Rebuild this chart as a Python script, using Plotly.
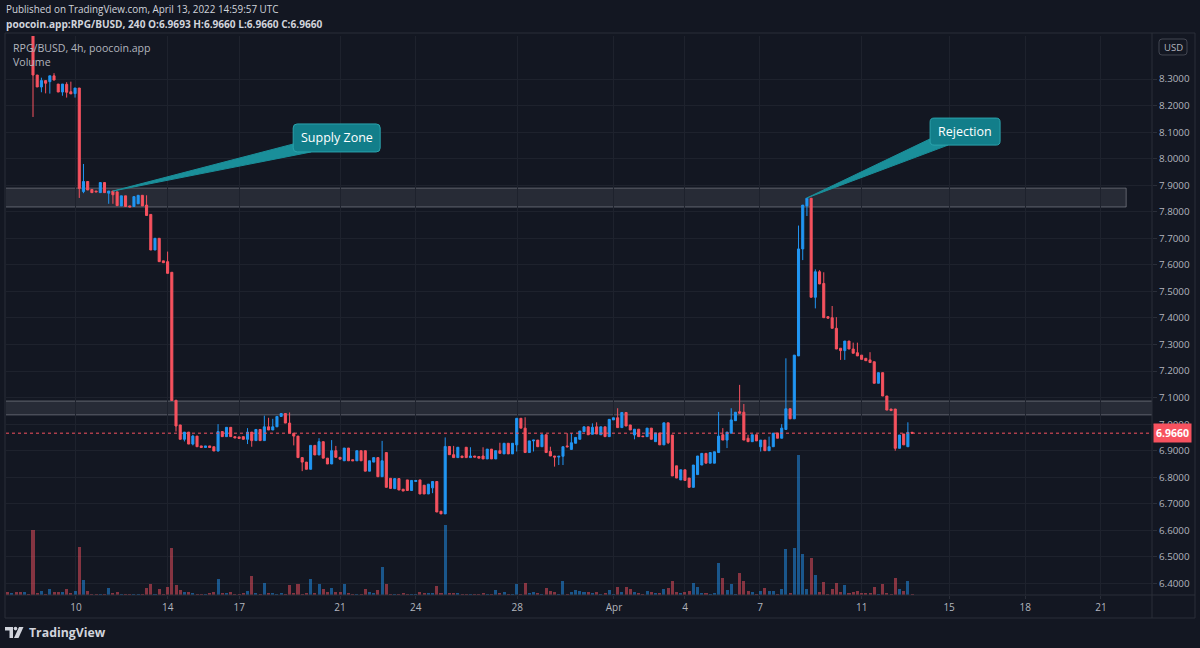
import plotly.graph_objects as go

# ---------------- DATA (4h bars, index -6 .. 209) ----------------
opens = [8.66, 8.62, 8.65, 8.60, 8.57, 8.59,
         8.56, 8.315, 8.27, 8.294, 8.29, 8.312, 8.281, 8.251, 8.28, 8.252,
         8.245, 8.266, 7.876, 7.914, 7.884, 7.878, 7.872, 7.91, 7.87, 7.878,
         7.875, 7.822, 7.86, 7.822, 7.82, 7.83, 7.862, 7.825, 7.79, 7.656,
         7.70, 7.615, 7.612, 7.572, 7.09, 6.997, 6.943, 6.97, 6.925, 6.955,
         6.918, 6.912, 6.918, 6.915, 6.899, 6.972, 6.953, 6.988, 6.953, 6.952,
         6.953, 6.943, 6.97, 6.938, 6.98, 6.938, 6.99, 6.978, 6.99, 7.029,
         7.04, 7.004, 6.966, 6.955, 6.874, 6.857, 6.83, 6.92, 6.884, 6.934,
         6.872, 6.85, 6.9, 6.875, 6.862, 6.91, 6.866, 6.862, 6.9, 6.9,
         6.823, 6.857, 6.874, 6.802, 6.893, 6.796, 6.757, 6.795, 6.755, 6.79,
         6.75, 6.784, 6.79, 6.77, 6.737, 6.76, 6.784, 6.672, 6.662, 6.916,
         6.885, 6.874, 6.88, 6.913, 6.874, 6.88, 6.878, 6.88, 6.869, 6.906,
         6.869, 6.9, 6.888, 6.928, 6.888, 6.922, 7.022, 6.985, 6.893, 6.937,
         6.94, 6.915, 6.96, 6.897, 6.88, 6.876, 6.879, 6.918, 6.905, 6.928,
         6.943, 6.972, 6.99, 6.962, 6.99, 6.96, 6.99, 6.953, 7.016, 7.024,
         6.987, 7.044, 6.997, 6.959, 6.981, 6.955, 6.953, 6.985, 6.934, 6.967,
         6.922, 7.005, 6.959, 6.843, 6.79, 6.828, 6.797, 6.762, 6.81, 6.846,
         6.89, 6.853, 6.853, 6.893, 6.96, 6.94, 6.966, 7.013, 7.047, 7.045,
         6.947, 6.934, 6.96, 6.915, 6.94, 6.9, 6.915, 6.967, 6.947, 6.98,
         7.058, 7.02, 7.257, 7.66, 7.822, 7.851, 7.478, 7.574, 7.53, 7.405,
         7.401, 7.361, 7.286, 7.277, 7.313, 7.283, 7.269, 7.26, 7.248, 7.242,
         7.235, 7.154, 7.194, 7.106, 7.057, 7.057, 6.909, 6.963, 6.915, 6.9693]

highs = [8.68, 8.67, 8.66, 8.61, 8.60, 8.60,
         8.57, 8.315, 8.305, 8.294, 8.312, 8.322, 8.281, 8.281, 8.288, 8.29,
         8.266, 8.266, 7.98, 7.914, 7.884, 7.878, 7.91, 7.91, 7.878, 7.878,
         7.875, 7.86, 7.86, 7.822, 7.857, 7.862, 7.862, 7.862, 7.79, 7.70,
         7.70, 7.615, 7.65, 7.572, 7.09, 6.997, 6.97, 6.97, 6.96, 6.955,
         6.918, 6.918, 6.918, 6.915, 7.0, 6.972, 6.988, 6.988, 6.953, 6.952,
         6.953, 6.985, 6.97, 6.98, 6.98, 7.032, 7.024, 7.02, 7.029, 7.04,
         7.04, 7.044, 6.966, 6.955, 6.874, 6.857, 6.92, 6.92, 6.947, 6.934,
         6.872, 6.94, 6.918, 6.875, 6.91, 6.91, 6.866, 6.9, 6.9, 6.9,
         6.862, 6.874, 6.874, 6.937, 6.893, 6.796, 6.795, 6.795, 6.755, 6.79,
         6.788, 6.788, 6.79, 6.77, 6.774, 6.784, 6.784, 6.672, 6.95, 6.916,
         6.918, 6.913, 6.88, 6.913, 6.913, 6.88, 6.878, 6.913, 6.906, 6.906,
         6.9, 6.93, 6.928, 6.928, 6.928, 7.022, 7.022, 7.026, 6.937, 6.94,
         6.94, 6.96, 6.96, 6.915, 6.88, 6.879, 6.915, 6.966, 6.966, 6.95,
         6.974, 6.99, 6.99, 7.003, 7.007, 6.99, 6.99, 7.018, 7.024, 7.06,
         7.044, 7.044, 6.997, 6.981, 6.981, 6.955, 6.985, 6.985, 6.967, 6.967,
         7.005, 7.005, 6.959, 6.843, 6.828, 6.828, 6.797, 6.846, 6.88, 6.89,
         6.89, 6.893, 6.896, 7.046, 6.985, 6.97, 7.06, 7.045, 7.148, 7.076,
         6.96, 6.96, 6.96, 6.94, 6.94, 6.953, 6.966, 6.967, 7.0, 7.248,
         7.058, 7.26, 7.748, 7.825, 7.851, 7.851, 7.583, 7.58, 7.572, 7.405,
         7.445, 7.403, 7.286, 7.313, 7.313, 7.307, 7.307, 7.26, 7.248, 7.271,
         7.235, 7.194, 7.194, 7.106, 7.057, 7.057, 6.959, 6.963, 7.007, 6.9693]

lows = [8.60, 8.61, 8.59, 8.55, 8.55, 8.54,
        8.157, 8.27, 8.25, 8.246, 8.245, 8.296, 8.251, 8.237, 8.23, 8.244,
        8.23, 7.852, 7.87, 7.882, 7.872, 7.875, 7.872, 7.872, 7.83, 7.83,
        7.823, 7.822, 7.82, 7.818, 7.82, 7.83, 7.822, 7.786, 7.656, 7.656,
        7.612, 7.608, 7.568, 7.089, 6.972, 6.943, 6.935, 6.925, 6.92, 6.915,
        6.912, 6.912, 6.912, 6.899, 6.897, 6.953, 6.953, 6.953, 6.948, 6.946,
        6.943, 6.925, 6.915, 6.938, 6.938, 6.938, 6.978, 6.978, 6.99, 7.029,
        7.004, 6.966, 6.92, 6.874, 6.823, 6.83, 6.83, 6.884, 6.884, 6.872,
        6.85, 6.85, 6.875, 6.868, 6.862, 6.862, 6.862, 6.862, 6.862, 6.823,
        6.823, 6.857, 6.802, 6.802, 6.762, 6.758, 6.757, 6.752, 6.748, 6.75,
        6.75, 6.784, 6.737, 6.737, 6.737, 6.74, 6.669, 6.662, 6.662, 6.885,
        6.874, 6.874, 6.874, 6.874, 6.874, 6.876, 6.872, 6.869, 6.869, 6.869,
        6.869, 6.89, 6.888, 6.888, 6.888, 6.897, 6.985, 6.893, 6.893, 6.897,
        6.915, 6.915, 6.893, 6.88, 6.84, 6.846, 6.846, 6.912, 6.905, 6.928,
        6.943, 6.972, 6.96, 6.962, 6.963, 6.96, 6.953, 6.953, 7.016, 6.987,
        6.987, 6.993, 6.978, 6.943, 6.953, 6.953, 6.953, 6.943, 6.934, 6.922,
        6.922, 6.925, 6.805, 6.797, 6.79, 6.788, 6.762, 6.762, 6.81, 6.846,
        6.853, 6.853, 6.853, 6.893, 6.94, 6.91, 6.966, 7.013, 7.041, 6.94,
        6.934, 6.934, 6.937, 6.897, 6.9, 6.9, 6.915, 6.947, 6.947, 6.98,
        7.02, 7.02, 7.257, 7.618, 7.784, 7.478, 7.436, 7.528, 7.401, 7.399,
        7.361, 7.283, 7.242, 7.242, 7.283, 7.267, 7.257, 7.244, 7.239, 7.232,
        7.154, 7.154, 7.106, 7.053, 7.051, 6.9, 6.909, 6.922, 6.915, 6.966]

closes = [8.62, 8.65, 8.60, 8.57, 8.59, 8.56,
          8.315, 8.27, 8.294, 8.284, 8.312, 8.296, 8.251, 8.281, 8.25, 8.244,
          8.266, 7.888, 7.914, 7.882, 7.872, 7.875, 7.91, 7.872, 7.878, 7.864,
          7.823, 7.86, 7.82, 7.818, 7.857, 7.862, 7.822, 7.786, 7.656, 7.70,
          7.612, 7.608, 7.568, 7.089, 6.993, 6.943, 6.97, 6.925, 6.955, 6.915,
          6.912, 6.918, 6.912, 6.899, 6.972, 6.953, 6.988, 6.953, 6.948, 6.946,
          6.943, 6.97, 6.938, 6.98, 6.938, 6.99, 6.978, 6.99, 7.029, 7.04,
          7.004, 6.966, 6.955, 6.874, 6.857, 6.83, 6.92, 6.884, 6.934, 6.872,
          6.85, 6.9, 6.875, 6.868, 6.91, 6.862, 6.862, 6.9, 6.862, 6.823,
          6.862, 6.874, 6.802, 6.862, 6.762, 6.758, 6.795, 6.752, 6.748, 6.75,
          6.788, 6.788, 6.737, 6.737, 6.774, 6.784, 6.669, 6.662, 6.916, 6.885,
          6.874, 6.913, 6.874, 6.874, 6.88, 6.876, 6.872, 6.869, 6.906, 6.869,
          6.9, 6.89, 6.928, 6.888, 6.928, 7.022, 6.985, 6.893, 6.937, 6.94,
          6.915, 6.96, 6.893, 6.88, 6.876, 6.879, 6.915, 6.915, 6.93, 6.95,
          6.974, 6.99, 6.96, 6.988, 6.963, 6.99, 6.953, 7.018, 7.024, 6.987,
          7.044, 6.993, 6.978, 6.981, 6.953, 6.953, 6.985, 6.943, 6.967, 6.922,
          7.005, 6.93, 6.805, 6.797, 6.828, 6.788, 6.762, 6.846, 6.88, 6.89,
          6.853, 6.893, 6.896, 6.955, 6.94, 6.97, 7.016, 7.045, 7.041, 6.94,
          6.934, 6.96, 6.937, 6.94, 6.9, 6.915, 6.966, 6.947, 6.985, 7.058,
          7.02, 7.26, 7.66, 7.825, 7.851, 7.478, 7.574, 7.528, 7.401, 7.399,
          7.361, 7.283, 7.277, 7.313, 7.283, 7.267, 7.257, 7.244, 7.239, 7.232,
          7.154, 7.194, 7.106, 7.053, 7.051, 6.909, 6.959, 6.922, 6.969, 6.966]

volumes = [3.3, 1.7, 3.3, 3.3, 3.3, 1,
           65, 1.7, 4.3, 1, 5.7, 2.7, 3.3, 2.7, 5.7, 1.7,
           4.3, 47.7, 15, 4.3, 1, 1, 1, 1, 6.7, 2,
           3.3, 1, 1, 1, 1, 1, 1, 6.7, 11, 1,
           5.7, 1, 8.3, 46.7, 10, 5, 2.7, 2.7, 1.7, 1,
           1, 1, 2, 3.3, 16, 2, 2, 2.7, 1, 1,
           2, 4.3, 19.3, 2, 1, 12.3, 2, 2, 1, 2,
           1, 10, 2, 11, 1, 2, 15.7, 2, 11, 5.7,
           2.7, 6.7, 3.3, 2.7, 11, 2, 1, 1, 1, 5.7,
           2.7, 1.7, 5, 27.7, 11, 1, 1, 1, 2, 1,
           1, 1, 3.3, 2, 2, 2, 9, 2, 70, 2,
           2, 2, 1, 1, 1, 1, 1, 2, 1, 1,
           5, 2, 2.7, 1, 1, 11, 1, 11.7, 2, 2.7,
           2, 1, 6.7, 4.3, 2.7, 1, 14, 1, 3.3, 5,
           4.3, 2.7, 2.7, 2, 2.7, 1, 2, 5, 1, 8.3,
           3.3, 8.3, 5.7, 2.7, 2, 1, 4.3, 2.7, 2, 2,
           5.7, 6.7, 14, 2.7, 2, 2.7, 4, 12.3, 8.3, 2,
           2, 1, 2, 31.7, 17.3, 5, 11, 1, 21.7, 14,
           4.3, 3.3, 1, 4.3, 6.7, 4.3, 4.3, 1, 5.7, 45.7,
           2, 46.7, 140, 40.7, 6, 36.7, 20, 3.3, 13.3, 1,
           6, 12.3, 2.7, 10, 2, 3.3, 4.3, 2, 2, 2,
           8.3, 1, 11, 2, 1, 17.3, 6, 4, 14, 1]

bar_index = list(range(-6, -6 + len(closes)))

date_tick_index = [10.22, 32.03, 49.05, 72.99, 90.99, 115.14, 138.13,
                   155.01, 172.84, 197.03, 217.8, 235.9, 253.9]
date_tick_labels = ["10", "14", "17", "21", "24", "28", "Apr",
                    "4", "7", "11", "15", "18", "21"]
price_ticks = [6.4, 6.5, 6.6, 6.7, 6.8, 6.9, 7.0, 7.1, 7.2, 7.3,
               7.4, 7.5, 7.6, 7.7, 7.8, 7.9, 8.0, 8.1, 8.2, 8.3]

supply_zone = {"x0": -8, "x1": 259.9, "low": 7.818, "high": 7.889}
lower_zone = {"x0": -8, "x1": 270, "low": 7.035, "high": 7.087}

callouts = [
    {"text": "Supply Zone", "tip": (19.0, 7.878), "box": (72.2, 8.078), "size": (87, 28)},
    {"text": "Rejection", "tip": (184.0, 7.852), "box": (221.6, 8.102), "size": (70, 27)},
]

# ---------------- STYLE ----------------
BG = "#131722"
UP = "#2196F3"
DOWN = "#F7525F"
GRID = "#1e222d"
TXT = "#b2b5be"
FONT = "Open Sans"
TEAL = "#127e8a"
TEAL_EDGE = "#2ba3ad"

W, H = 1200, 648
ML, MR, MT, MB = 6, 48, 36, 53
PW, PH = W - ML - MR, H - MT - MB

x_range = [-6.42, 266.04]
y_range = [6.3565, 8.462]
px_x = PW / (x_range[1] - x_range[0])
px_y = PH / (y_range[1] - y_range[0])


def px2paper(px, py):
    return (px - ML) / PW, (H - MB - py) / PH


def rounded_rect_path(cx, cy, w, h, r):
    # cx, cy: pixel centre; returns an SVG path in paper coordinates
    x0, x1 = cx - w / 2, cx + w / 2
    y0, y1 = cy - h / 2, cy + h / 2
    pts = []
    def P(px, py):
        a, b = px2paper(px, py)
        return f"{a:.6f},{b:.6f}"
    d = (f"M {P(x0 + r, y0)} L {P(x1 - r, y0)} Q {P(x1, y0)} {P(x1, y0 + r)} "
         f"L {P(x1, y1 - r)} Q {P(x1, y1)} {P(x1 - r, y1)} "
         f"L {P(x0 + r, y1)} Q {P(x0, y1)} {P(x0, y1 - r)} "
         f"L {P(x0, y0 + r)} Q {P(x0, y0)} {P(x0 + r, y0)} Z")
    return d


def data2px(xv, yv):
    return ML + (xv - x_range[0]) * px_x, H - MB - (yv - y_range[0]) * px_y


vol_colors = ["rgba(33,150,243,0.5)" if c >= o else "rgba(247,82,95,0.5)"
              for o, c in zip(opens, closes)]

fig = go.Figure()
fig.add_trace(go.Bar(x=bar_index, y=volumes, marker_color=vol_colors,
                     marker_line_width=0, width=0.72, yaxis="y2",
                     hoverinfo="skip", showlegend=False))
fig.add_trace(go.Candlestick(x=bar_index, open=opens, high=highs, low=lows, close=closes,
                             increasing=dict(line=dict(color=UP, width=1), fillcolor=UP),
                             decreasing=dict(line=dict(color=DOWN, width=1), fillcolor=DOWN),
                             whiskerwidth=0, hoverinfo="skip", showlegend=False))

shapes = []
for z in (supply_zone, lower_zone):
    shapes.append(dict(type="rect", xref="x", yref="y", x0=z["x0"], x1=z["x1"],
                       y0=z["low"], y1=z["high"], fillcolor="rgba(120,123,134,0.2)",
                       line=dict(color="rgba(150,153,162,0.55)", width=1), layer="below"))
shapes.append(dict(type="line", xref="paper", yref="y", x0=0, x1=1,
                   y0=closes[-1], y1=closes[-1],
                   line=dict(color=DOWN, width=1, dash="dot")))
for c in callouts:
    tx, ty = c["tip"]
    bx, by = c["box"]
    w, h = c["size"]
    p1 = (bx - (w / 2 - 8) / px_x, by - (h / 2 - 10) / px_y)
    p2 = (bx - (w / 2 - 18) / px_x, by - (h / 2) / px_y)
    path = f"M {tx},{ty} L {p1[0]},{p1[1]} L {p2[0]},{p2[1]} Z"
    shapes.append(dict(type="path", xref="x", yref="y", path=path,
                       fillcolor="#1a8f9a", line=dict(color="#1a8f9a", width=1)))
    cpx, cpy = data2px(bx, by)
    shapes.append(dict(type="path", xref="paper", yref="paper",
                       path=rounded_rect_path(cpx, cpy, w, h, 4),
                       fillcolor=TEAL, line=dict(color=TEAL_EDGE, width=1)))
# USD box
shapes.append(dict(type="path", xref="paper", yref="paper",
                   path=rounded_rect_path(1173, 47, 28, 16, 3),
                   fillcolor=BG, line=dict(color="#434651", width=1)))
# pane frame and axis separators
fx0, fy0 = px2paper(5, 618)
fx1, fy1 = px2paper(1195, 33)
shapes.append(dict(type="rect", xref="paper", yref="paper", x0=fx0, x1=fx1, y0=fy0, y1=fy1,
                   line=dict(color="#2a2e39", width=1)))
shapes.append(dict(type="line", xref="paper", yref="paper", x0=0, x1=fx1, y0=0, y1=0,
                   line=dict(color="#2a2e39", width=1)))
shapes.append(dict(type="line", xref="paper", yref="paper", x0=1, x1=1, y0=fy0, y1=fy1,
                   line=dict(color="#2a2e39", width=1)))
# TradingView logo
LOGO = "#d1d4dc"
def rect_paper(x0, y0, x1, y1):
    a0, b0 = px2paper(x0, y1)
    a1, b1 = px2paper(x1, y0)
    return dict(type="rect", xref="paper", yref="paper", x0=a0, x1=a1, y0=b0, y1=b1,
                fillcolor=LOGO, line=dict(width=0))
shapes.append(rect_paper(5, 627, 13, 630.5))
shapes.append(rect_paper(9.5, 627, 13, 638))
cx0, cy0 = px2paper(13.7, 626.8)
cx1, cy1 = px2paper(17.3, 630.4)
shapes.append(dict(type="circle", xref="paper", yref="paper", x0=cx0, x1=cx1, y0=cy1, y1=cy0,
                   fillcolor=LOGO, line=dict(width=0)))
def P2(px, py):
    a, b = px2paper(px, py)
    return f"{a:.6f},{b:.6f}"
shapes.append(dict(type="path", xref="paper", yref="paper",
                   path=f"M {P2(19, 627)} L {P2(23.5, 627)} L {P2(18.5, 638)} L {P2(14, 638)} Z",
                   fillcolor=LOGO, line=dict(width=0)))

annotations = []
for c in callouts:
    bx, by = c["box"]
    annotations.append(dict(x=bx, y=by, xref="x", yref="y", xanchor="center", yanchor="middle",
                            text=c["text"], showarrow=False,
                            font=dict(family=FONT, size=12.5, color="#ffffff")))
annotations.append(dict(x=1, y=closes[-1], xref="paper", yref="y", xanchor="left",
                        yanchor="middle", xshift=1, text=f"<b>{closes[-1]:.4f}</b>",
                        showarrow=False, font=dict(family=FONT, size=10.5, color="#ffffff"),
                        bgcolor=DOWN, borderpad=2))
ux, uy = px2paper(1173, 47)
annotations.append(dict(x=ux, y=uy, xref="paper", yref="paper", xanchor="center",
                        yanchor="middle", text="USD", showarrow=False,
                        font=dict(family=FONT, size=9.5, color=TXT)))
for text, py, size in [("Published on TradingView.com, April 13, 2022 14:59:57 UTC", 9, 9.9),
                       ("<b>poocoin.app:RPG/BUSD, 240 O:6.9693 H:6.9660 L:6.9660 C:6.9660</b>", 24, 10.1)]:
    ax_, ay_ = px2paper(4, py)
    annotations.append(dict(x=ax_, y=ay_, xref="paper", yref="paper", xanchor="left",
                            yanchor="middle", text=text, showarrow=False,
                            font=dict(family=FONT, size=size, color="#d1d4dc")))
for text, py in [("RPG/BUSD, 4h, poocoin.app", 48), ("Volume", 62)]:
    ax_, ay_ = px2paper(11, py)
    annotations.append(dict(x=ax_, y=ay_, xref="paper", yref="paper", xanchor="left",
                            yanchor="middle", text=text, showarrow=False,
                            font=dict(family=FONT, size=10.6, color=TXT)))
lx, ly = px2paper(27, 632)
annotations.append(dict(x=lx, y=ly, xref="paper", yref="paper", xanchor="left",
                        yanchor="middle", text="<b>TradingView</b>", showarrow=False,
                        font=dict(family=FONT, size=12.3, color=LOGO)))

fig.update_layout(
    width=W, height=H, margin=dict(l=ML, r=MR, t=MT, b=MB, autoexpand=False),
    paper_bgcolor=BG, plot_bgcolor=BG, showlegend=False, bargap=0,
    font=dict(family=FONT, color=TXT, size=10),
    xaxis=dict(range=x_range, tickvals=date_tick_index, ticktext=date_tick_labels,
               showgrid=True, gridcolor=GRID, gridwidth=1, zeroline=False,
               ticks="outside", ticklen=3, tickcolor="#2a2e39",
               tickfont=dict(family=FONT, size=10, color=TXT),
               rangeslider=dict(visible=False), showline=False, fixedrange=True),
    yaxis=dict(range=y_range, side="right", tickvals=price_ticks, tickformat=".4f",
               showgrid=True, gridcolor=GRID, gridwidth=1, zeroline=False,
               ticks="outside", ticklen=4, tickcolor="#2a2e39",
               tickfont=dict(family=FONT, size=9.8, color=TXT), showline=False),
    yaxis2=dict(overlaying="y", range=[0, max(volumes) * 4], visible=False),
    shapes=shapes, annotations=annotations,
)

fig.write_html("out.html")
